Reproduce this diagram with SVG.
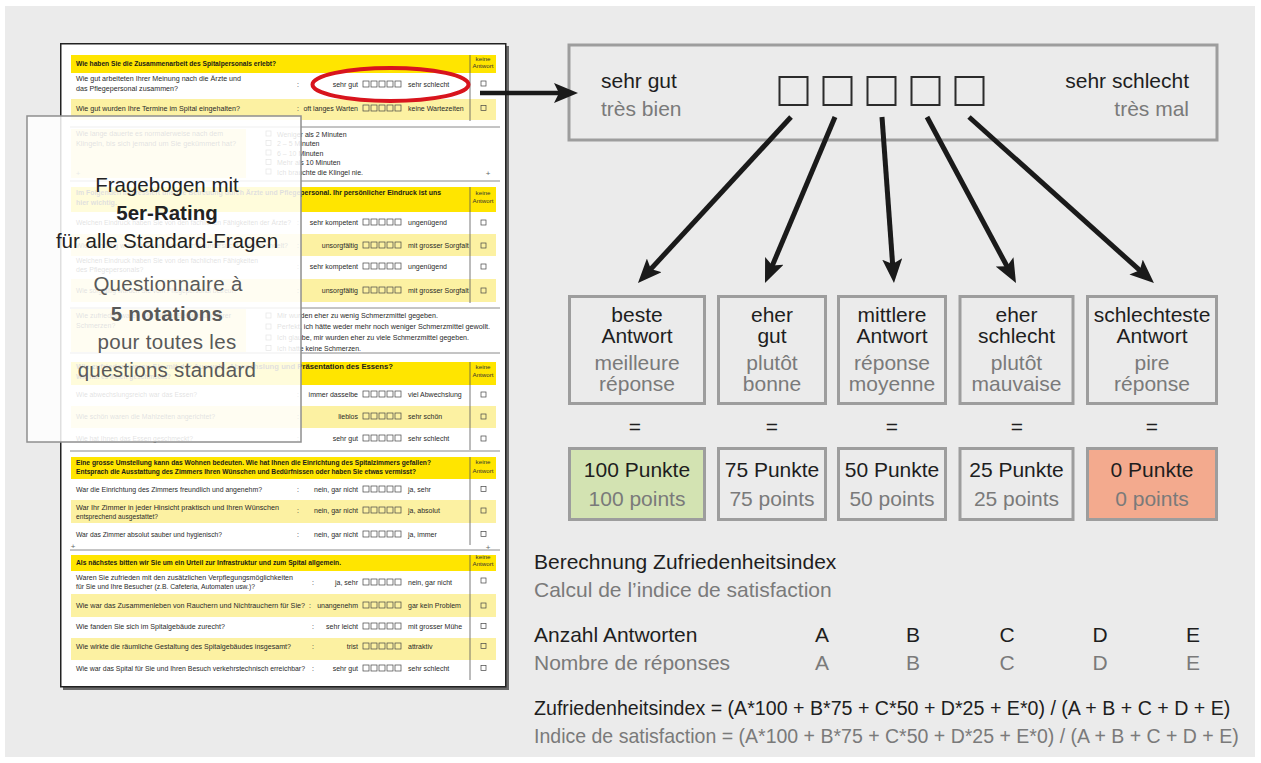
<svg xmlns="http://www.w3.org/2000/svg" width="1261" height="763" viewBox="0 0 1261 763">
<style>
text{font-family:"Liberation Sans",Arial,Helvetica,sans-serif}
.q{font-size:7px;fill:#2a2a2a}
.qb{font-size:7px;fill:#1a1a1a;font-weight:bold}
.k{font-size:6.2px;fill:#333;text-anchor:middle}
.e{text-anchor:end}
.hdr{fill:#ffe500}
.band{fill:#fcf1a2}
.sep{stroke:#8a8a8a;stroke-width:1}
.col{stroke:#555;stroke-width:0.8}
.cb{fill:none;stroke:#444;stroke-width:0.7}
.pl{font-size:8px;fill:#666;text-anchor:middle}
.ov1{font-size:20.5px;fill:#222;text-anchor:middle}
.ov2{font-size:20.5px;fill:#595959;text-anchor:middle}
.bold{font-weight:bold}
.d{font-size:21px;fill:#1e1e1e}
.g{font-size:21px;fill:#7a7a7a}
.c{text-anchor:middle}
.bx{fill:none;stroke:#9d9d9d;stroke-width:3}
.sq{fill:none;stroke:#2b2b2b;stroke-width:2}
.arr{stroke:#1a1a1a;stroke-width:5;fill:none;marker-end:url(#ah)}
</style>
<defs>
<marker id="ah" markerUnits="userSpaceOnUse" viewBox="0 0 24 20" refX="16" refY="10" markerWidth="24" markerHeight="20" orient="auto"><path d="M0,0 L24,10 L0,20 L5,10 z" fill="#1a1a1a"/></marker>
<g id="r5" class="cb"><rect x="0" y="0" width="6" height="6"/><rect x="8" y="0" width="6" height="6"/><rect x="16" y="0" width="6" height="6"/><rect x="24" y="0" width="6" height="6"/><rect x="32" y="0" width="6" height="6"/></g>
</defs>
<rect x="5" y="6" width="1250" height="751" fill="#ebebeb"/>

<g id="page">
<rect x="63" y="46" width="446" height="644" fill="#6a6a6a"/>
<rect x="60.75" y="43.75" width="445" height="643" fill="#fff" stroke="#222" stroke-width="1.5"/>
<g class="sep">
<line x1="70" y1="127" x2="500" y2="127"/><line x1="70" y1="181" x2="500" y2="181"/><line x1="70" y1="308" x2="500" y2="308"/><line x1="70" y1="353" x2="500" y2="353"/><line x1="70" y1="451" x2="500" y2="451"/><line x1="70" y1="550" x2="500" y2="550"/>
</g>
</g>

<g id="sec1">
<rect class="hdr" x="71" y="55" width="425" height="18"/>
<rect class="band" x="71" y="99" width="425" height="21"/>
<line class="col" x1="470" y1="55" x2="470" y2="121"/>
<text class="qb" x="76" y="66" textLength="200" lengthAdjust="spacingAndGlyphs">Wie haben Sie die Zusammenarbeit des Spitalpersonals erlebt?</text>
<text class="k" x="483" y="61">keine</text><text class="k" x="483" y="68">Antwort</text>
<text class="q" x="76" y="81" textLength="165" lengthAdjust="spacingAndGlyphs">Wie gut arbeiteten Ihrer Meinung nach die Ärzte und</text>
<text class="q" x="76" y="91" textLength="102" lengthAdjust="spacingAndGlyphs">das Pflegepersonal zusammen?</text>
<text class="q" x="297" y="87">:</text>
<text class="q e" x="358" y="87">sehr gut</text><use href="#r5" x="363" y="81"/><text class="q" x="408" y="87">sehr schlecht</text>
<rect class="cb" x="481" y="81" width="5" height="5"/>
<text class="q" x="76" y="111" textLength="164" lengthAdjust="spacingAndGlyphs">Wie gut wurden Ihre Termine im Spital eingehalten?</text>
<text class="q" x="297" y="111">:</text>
<text class="q e" x="358" y="111">oft langes Warten</text><use href="#r5" x="363" y="105"/><text class="q" x="408" y="111">keine Wartezeiten</text>
<rect class="cb" x="481" y="105.5" width="5" height="5"/>
</g>

<g id="sec2">
<rect class="band" x="71" y="129" width="175" height="49"/>
<text class="q" x="76" y="136" textLength="147" lengthAdjust="spacingAndGlyphs">Wie lange dauerte es normalerweise nach dem</text>
<text class="q" x="76" y="146" textLength="160" lengthAdjust="spacingAndGlyphs">Klingeln, bis sich jemand um Sie gekümmert hat?</text>
<rect class="cb" x="266" y="131" width="5" height="5"/><rect class="cb" x="266" y="140.5" width="5" height="5"/><rect class="cb" x="266" y="150" width="5" height="5"/><rect class="cb" x="266" y="159.5" width="5" height="5"/><rect class="cb" x="266" y="169" width="5" height="5"/>
<text class="q" x="277" y="136.5">Weniger als 2 Minuten</text>
<text class="q" x="277" y="146">2 – 5 Minuten</text>
<text class="q" x="277" y="155.7">6 – 10 Minuten</text>
<text class="q" x="277" y="165.3">Mehr als 10 Minuten</text>
<text class="q" x="277" y="175">Ich brauchte die Klingel nie.</text>
<text class="pl" x="78" y="176">+</text><text class="pl" x="488" y="176">+</text>
</g>

<g id="sec3">
<rect class="hdr" x="71" y="187" width="425" height="25"/>
<rect class="band" x="71" y="234" width="425" height="22"/>
<rect class="band" x="71" y="279" width="425" height="23"/>
<line class="col" x1="470" y1="187" x2="470" y2="303"/>
<text class="qb" x="76" y="195" textLength="365" lengthAdjust="spacingAndGlyphs">Im Folgenden interessiert uns die Betreuung durch Ärzte und Pflegepersonal. Ihr persönlicher Eindruck ist uns</text>
<text class="qb" x="76" y="205">hier wichtig.</text>
<text class="k" x="483" y="195">keine</text><text class="k" x="483" y="203">Antwort</text>
<text class="q" x="76" y="225" textLength="215" lengthAdjust="spacingAndGlyphs">Welchen Eindruck haben Sie von den fachlichen Fähigkeiten der Ärzte?</text>
<text class="q" x="297" y="225">:</text>
<text class="q e" x="358" y="225">sehr kompetent</text><use href="#r5" x="363" y="219"/><text class="q" x="408" y="225">ungenügend</text>
<rect class="cb" x="481" y="220" width="5" height="5"/>
<text class="q" x="76" y="248" textLength="212" lengthAdjust="spacingAndGlyphs">Wie sorgfältig wurden Sie von den Ärzten untersucht und behandelt?</text>
<text class="q" x="297" y="248">:</text>
<text class="q e" x="358" y="248">unsorgfältig</text><use href="#r5" x="363" y="242"/><text class="q" x="408" y="248">mit grosser Sorgfalt</text>
<rect class="cb" x="481" y="243" width="5" height="5"/>
<text class="q" x="76" y="263" textLength="182" lengthAdjust="spacingAndGlyphs">Welchen Eindruck haben Sie von den fachlichen Fähigkeiten</text>
<text class="q" x="76" y="272">des Pflegepersonals?</text>
<text class="q" x="297" y="269">:</text>
<text class="q e" x="358" y="269">sehr kompetent</text><use href="#r5" x="363" y="263"/><text class="q" x="408" y="269">ungenügend</text>
<rect class="cb" x="481" y="264" width="5" height="5"/>
<text class="q" x="76" y="293" textLength="161" lengthAdjust="spacingAndGlyphs">Wie sorgfältig wurden Sie vom Pflegepersonal betreut?</text>
<text class="q" x="297" y="293">:</text>
<text class="q e" x="358" y="293">unsorgfältig</text><use href="#r5" x="363" y="287"/><text class="q" x="408" y="293">mit grosser Sorgfalt</text>
<rect class="cb" x="481" y="288" width="5" height="5"/>
</g>

<g id="sec4">
<rect class="band" x="71" y="309" width="175" height="43"/>
<text class="q" x="76" y="318" textLength="155" lengthAdjust="spacingAndGlyphs">Wie zufrieden waren Sie mit der Behandlung Ihrer</text>
<text class="q" x="76" y="328">Schmerzen?</text>
<rect class="cb" x="266" y="313" width="5" height="5"/><rect class="cb" x="266" y="324" width="5" height="5"/><rect class="cb" x="266" y="335" width="5" height="5"/><rect class="cb" x="266" y="345.5" width="5" height="5"/>
<text class="q" x="277" y="318" textLength="161" lengthAdjust="spacingAndGlyphs">Mir wurden eher zu wenig Schmerzmittel gegeben.</text>
<text class="q" x="277" y="329" textLength="213" lengthAdjust="spacingAndGlyphs">Perfekt, ich hätte weder mehr noch weniger Schmerzmittel gewollt.</text>
<text class="q" x="277" y="340" textLength="192" lengthAdjust="spacingAndGlyphs">Ich glaube, mir wurden eher zu viele Schmerzmittel gegeben.</text>
<text class="q" x="277" y="350.5" textLength="84" lengthAdjust="spacingAndGlyphs">Ich hatte keine Schmerzen.</text>
</g>

<g id="sec5">
<rect class="hdr" x="71" y="362" width="425" height="23"/>
<rect class="band" x="71" y="406" width="425" height="22"/>
<line class="col" x1="470" y1="362" x2="470" y2="450"/>
<text class="qb" x="76" y="369" textLength="317" lengthAdjust="spacingAndGlyphs">Wie zufrieden waren Sie mit der Auswahl, Abwechslung und Präsentation des Essens?</text>
<text class="qb" x="76" y="379" textLength="95" lengthAdjust="spacingAndGlyphs">Wie hat es Ihnen geschmeckt?</text>
<text class="k" x="483" y="369">keine</text><text class="k" x="483" y="377">Antwort</text>
<text class="q" x="76" y="397" textLength="121" lengthAdjust="spacingAndGlyphs">Wie abwechslungsreich war das Essen?</text>
<text class="q" x="297" y="397">:</text>
<text class="q e" x="358" y="397">immer dasselbe</text><use href="#r5" x="363" y="391"/><text class="q" x="408" y="397">viel Abwechslung</text>
<rect class="cb" x="481" y="392" width="5" height="5"/>
<text class="q" x="76" y="419" textLength="139" lengthAdjust="spacingAndGlyphs">Wie schön waren die Mahlzeiten angerichtet?</text>
<text class="q" x="297" y="419">:</text>
<text class="q e" x="358" y="419">lieblos</text><use href="#r5" x="363" y="413"/><text class="q" x="408" y="419">sehr schön</text>
<rect class="cb" x="481" y="414" width="5" height="5"/>
<text class="q" x="76" y="441" textLength="117" lengthAdjust="spacingAndGlyphs">Wie hat Ihnen das Essen geschmeckt?</text>
<text class="q" x="297" y="441">:</text>
<text class="q e" x="358" y="441">sehr gut</text><use href="#r5" x="363" y="435"/><text class="q" x="408" y="441">sehr schlecht</text>
<rect class="cb" x="481" y="436" width="5" height="5"/>
</g>

<g id="sec6">
<rect class="hdr" x="71" y="457" width="425" height="22"/>
<rect class="band" x="71" y="500" width="425" height="23"/>
<line class="col" x1="470" y1="457" x2="470" y2="545"/>
<text class="qb" x="76" y="465" textLength="355" lengthAdjust="spacingAndGlyphs">Eine grosse Umstellung kann das Wohnen bedeuten. Wie hat Ihnen die Einrichtung des Spitalzimmers gefallen?</text>
<text class="qb" x="76" y="474" textLength="340" lengthAdjust="spacingAndGlyphs">Entsprach die Ausstattung des Zimmers Ihren Wünschen und Bedürfnissen oder haben Sie etwas vermisst?</text>
<text class="k" x="483" y="464">keine</text><text class="k" x="483" y="473">Antwort</text>
<text class="q" x="76" y="492" textLength="186" lengthAdjust="spacingAndGlyphs">War die Einrichtung des Zimmers freundlich und angenehm?</text>
<text class="q" x="297" y="492">:</text>
<text class="q e" x="358" y="492">nein, gar nicht</text><use href="#r5" x="363" y="486"/><text class="q" x="408" y="492">ja, sehr</text>
<rect class="cb" x="481" y="486.5" width="5" height="5"/>
<text class="q" x="76" y="510" textLength="203" lengthAdjust="spacingAndGlyphs">War Ihr Zimmer in jeder Hinsicht praktisch und Ihren Wünschen</text>
<text class="q" x="76" y="519" textLength="82" lengthAdjust="spacingAndGlyphs">entsprechend ausgestattet?</text>
<text class="q" x="297" y="513">:</text>
<text class="q e" x="358" y="513">nein, gar nicht</text><use href="#r5" x="363" y="507"/><text class="q" x="408" y="513">ja, absolut</text>
<rect class="cb" x="481" y="508" width="5" height="5"/>
<text class="q" x="76" y="537" textLength="146" lengthAdjust="spacingAndGlyphs">War das Zimmer absolut sauber und hygienisch?</text>
<text class="q" x="297" y="537">:</text>
<text class="q e" x="358" y="537">nein, gar nicht</text><use href="#r5" x="363" y="531"/><text class="q" x="408" y="537">ja, immer</text>
<rect class="cb" x="481" y="531.5" width="5" height="5"/>
<text class="pl" x="73" y="549">+</text><text class="pl" x="488" y="550">+</text>
</g>

<g id="sec7">
<rect class="hdr" x="71" y="555" width="425" height="16"/>
<rect class="band" x="71" y="594" width="425" height="23"/>
<rect class="band" x="71" y="638" width="425" height="22"/>
<line class="col" x1="470" y1="555" x2="470" y2="680"/>
<text class="qb" x="76" y="565" textLength="265" lengthAdjust="spacingAndGlyphs">Als nächstes bitten wir Sie um ein Urteil zur Infrastruktur und zum Spital allgemein.</text>
<text class="k" x="483" y="559">keine</text><text class="k" x="483" y="566">Antwort</text>
<text class="q" x="76" y="580" textLength="217" lengthAdjust="spacingAndGlyphs">Waren Sie zufrieden mit den zusätzlichen Verpflegungsmöglichkeiten</text>
<text class="q" x="76" y="589" textLength="179" lengthAdjust="spacingAndGlyphs">für Sie und Ihre Besucher (z.B. Cafeteria, Automaten usw.)?</text>
<text class="q" x="312" y="585">:</text>
<text class="q e" x="358" y="585">ja, sehr</text><use href="#r5" x="363" y="579"/><text class="q" x="408" y="585">nein, gar nicht</text>
<rect class="cb" x="481" y="578" width="5" height="5"/>
<text class="q" x="76" y="608" textLength="229" lengthAdjust="spacingAndGlyphs">Wie war das Zusammenleben von Rauchern und Nichtrauchern für Sie?</text>
<text class="q" x="309" y="608">:</text>
<text class="q e" x="358" y="608">unangenehm</text><use href="#r5" x="363" y="602"/><text class="q" x="408" y="608">gar kein Problem</text>
<rect class="cb" x="481" y="603" width="5" height="5"/>
<text class="q" x="76" y="629" textLength="149" lengthAdjust="spacingAndGlyphs">Wie fanden Sie sich im Spitalgebäude zurecht?</text>
<text class="q" x="312" y="629">:</text>
<text class="q e" x="358" y="629">sehr leicht</text><use href="#r5" x="363" y="623"/><text class="q" x="408" y="629">mit grosser Mühe</text>
<rect class="cb" x="481" y="623.5" width="5" height="5"/>
<text class="q" x="76" y="649" textLength="215" lengthAdjust="spacingAndGlyphs">Wie wirkte die räumliche Gestaltung des Spitalgebäudes insgesamt?</text>
<text class="q" x="312" y="649">:</text>
<text class="q e" x="358" y="649">trist</text><use href="#r5" x="363" y="643"/><text class="q" x="408" y="649">attraktiv</text>
<rect class="cb" x="481" y="643.5" width="5" height="5"/>
<text class="q" x="76" y="671" textLength="229" lengthAdjust="spacingAndGlyphs">Wie war das Spital für Sie und Ihren Besuch verkehrstechnisch erreichbar?</text>
<text class="q" x="312" y="671">:</text>
<text class="q e" x="358" y="671">sehr gut</text><use href="#r5" x="363" y="665"/><text class="q" x="408" y="671">sehr schlecht</text>
<rect class="cb" x="481" y="665.5" width="5" height="5"/>
</g>

<g id="overlay">
<rect x="27" y="116" width="274" height="326" fill="#fff" fill-opacity="0.86" stroke="#8f8f8f" stroke-width="1.5"/>
<text class="ov1" x="167" y="192">Fragebogen mit</text>
<text class="ov1 bold" x="167" y="220">5er-Rating</text>
<text class="ov1" x="167" y="248">für alle Standard-Fragen</text>
<text class="ov2" x="168" y="291" letter-spacing="0.3">Questionnaire à</text>
<text class="ov2 bold" x="167" y="321" letter-spacing="0.3">5 notations</text>
<text class="ov2" x="167" y="349" letter-spacing="0.3">pour toutes les</text>
<text class="ov2" x="167" y="377" letter-spacing="0.3">questions standard</text>
</g>

<g id="highlight">
<ellipse cx="390.5" cy="84.5" rx="78" ry="16.5" fill="none" stroke="#d8141d" stroke-width="4"/>
</g>

<g id="scale">
<rect class="bx" x="569" y="45" width="648" height="95"/>
<text class="d" x="601" y="88">sehr gut</text>
<text class="g" x="601" y="116">très bien</text>
<text class="d e" x="1189" y="88">sehr schlecht</text>
<text class="g e" x="1189" y="116">très mal</text>
<rect class="sq" x="779.5" y="77" width="28" height="28"/>
<rect class="sq" x="823.5" y="77" width="28" height="28"/>
<rect class="sq" x="867.5" y="77" width="28" height="28"/>
<rect class="sq" x="911.5" y="77" width="28" height="28"/>
<rect class="sq" x="955.5" y="77" width="28" height="28"/>
</g>

<g id="connectors">
<line x1="480" y1="93" x2="570" y2="93" stroke="#1a1a1a" stroke-width="4.5" marker-end="url(#ah)"/>
<line class="arr" x1="791" y1="117" x2="643.4" y2="277.1"/>
<line class="arr" x1="835" y1="117" x2="768.1" y2="275.6"/>
<line class="arr" x1="882" y1="117" x2="893.4" y2="275"/>
<line class="arr" x1="927" y1="117" x2="1012.2" y2="276"/>
<line class="arr" x1="969" y1="117" x2="1148" y2="277.7"/>
</g>

<g id="ans1">
<rect class="bx" x="569.5" y="296.5" width="135" height="107"/>
<text class="d c" x="637" y="322">beste</text><text class="d c" x="637" y="343">Antwort</text>
<text class="g c" x="637" y="370">meilleure</text><text class="g c" x="637" y="391">réponse</text>
</g>
<g id="ans2">
<rect class="bx" x="718.5" y="296.5" width="107" height="107"/>
<text class="d c" x="772" y="322">eher</text><text class="d c" x="772" y="343">gut</text>
<text class="g c" x="772" y="370">plutôt</text><text class="g c" x="772" y="391">bonne</text>
</g>
<g id="ans3">
<rect class="bx" x="838.5" y="296.5" width="107" height="107"/>
<text class="d c" x="892" y="322">mittlere</text><text class="d c" x="892" y="343">Antwort</text>
<text class="g c" x="892" y="370">réponse</text><text class="g c" x="892" y="391">moyenne</text>
</g>
<g id="ans4">
<rect class="bx" x="960" y="296.5" width="113" height="107"/>
<text class="d c" x="1016.5" y="322">eher</text><text class="d c" x="1016.5" y="343">schlecht</text>
<text class="g c" x="1016.5" y="370">plutôt</text><text class="g c" x="1016.5" y="391">mauvaise</text>
</g>
<g id="ans5">
<rect class="bx" x="1087.5" y="296.5" width="129" height="107"/>
<text class="d c" x="1152" y="322">schlechteste</text><text class="d c" x="1152" y="343">Antwort</text>
<text class="g c" x="1152" y="370">pire</text><text class="g c" x="1152" y="391">réponse</text>
</g>

<g id="equals">
<text class="d c" x="635" y="434">=</text>
<text class="d c" x="772" y="434">=</text>
<text class="d c" x="892" y="434">=</text>
<text class="d c" x="1017" y="434">=</text>
<text class="d c" x="1152" y="434">=</text>
</g>

<g id="pts1">
<rect class="bx" x="569.5" y="448.5" width="135" height="71" style="fill:#d3e3b2"/>
<text class="d c" x="637" y="477">100 Punkte</text><text class="g c" x="637" y="506">100 points</text>
</g>
<g id="pts2">
<rect class="bx" x="718.5" y="448.5" width="107" height="71"/>
<text class="d c" x="772" y="477">75 Punkte</text><text class="g c" x="772" y="506">75 points</text>
</g>
<g id="pts3">
<rect class="bx" x="838.5" y="448.5" width="107" height="71"/>
<text class="d c" x="892" y="477">50 Punkte</text><text class="g c" x="892" y="506">50 points</text>
</g>
<g id="pts4">
<rect class="bx" x="960" y="448.5" width="113" height="71"/>
<text class="d c" x="1016.5" y="477">25 Punkte</text><text class="g c" x="1016.5" y="506">25 points</text>
</g>
<g id="pts5">
<rect class="bx" x="1087.5" y="448.5" width="129" height="71" style="fill:#f3aa8e"/>
<text class="d c" x="1152" y="477">0 Punkte</text><text class="g c" x="1152" y="506">0 points</text>
</g>

<g id="calc">
<text class="d" x="534" y="569">Berechnung Zufriedenheitsindex</text>
<text class="g" x="534" y="597">Calcul de l’indice de satisfaction</text>
<text class="d" x="534" y="642">Anzahl Antworten</text>
<text class="g" x="534" y="670">Nombre de réponses</text>
<text class="d c" x="822" y="642">A</text><text class="d c" x="913" y="642">B</text><text class="d c" x="1007" y="642">C</text><text class="d c" x="1100" y="642">D</text><text class="d c" x="1193" y="642">E</text>
<text class="g c" x="822" y="670">A</text><text class="g c" x="913" y="670">B</text><text class="g c" x="1007" y="670">C</text><text class="g c" x="1100" y="670">D</text><text class="g c" x="1193" y="670">E</text>
<text class="d" transform="translate(534 715) scale(0.935 1)" x="0" y="0">Zufriedenheitsindex = (A*100 + B*75 + C*50 + D*25 + E*0) / (A + B + C + D + E)</text>
<text class="g" transform="translate(534 743) scale(0.93 1)" x="0" y="0">Indice de satisfaction = (A*100 + B*75 + C*50 + D*25 + E*0) / (A + B + C + D + E)</text>
</g>
</svg>
